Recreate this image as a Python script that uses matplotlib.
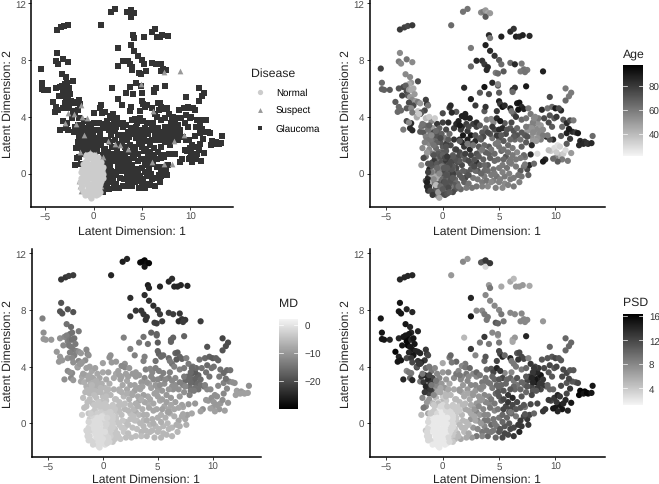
import matplotlib
matplotlib.use("Agg")
import matplotlib.pyplot as plt
from matplotlib.colors import LinearSegmentedColormap

plt.rcParams['font.family'] = ['Liberation Sans', 'DejaVu Sans']
plt.rcParams['text.hinting'] = 'none'

W, H = 659, 485

# latent positions and clinical values
glaucoma_x = [
    1.8, 2.2, 3.4, 3.6, 3.8, 4.0, 3.8, 4.2, 0.75, -3.8,
    -3.4, -3.1, -2.7, 4.1, 4.2, 5.2, 6.0, 6.3, 6.5, 6.8,
    7.1, 7.7, 3.8, 4.2, 2.5, 4.6, -3.8, -3.9, -3.2, -2.7,
    -3.7, 3.0, 3.5, 3.7, 4.0, 3.9, 2.5, 5.0, 5.2, 6.0,
    6.4, 7.0, 7.2, 6.9, 7.5, 5.4, 4.7, 4.9,
    -5.5, -3.3, -2.9, -5.4, -5.4, -5.2, -4.7, -2.2, -2.8, -3.0,
    -3.9, -3.5, -3.3, -3.2, -3.0, -2.8, -2.6, -2.5, -3.1, -2.9,
    -2.7, -2.4, -3.6, -3.0, -2.6, -2.2, -2.0, -4.2, -3.9, -4.0,
    -3.7, -3.2, -2.8, -2.2, -1.6, -1.5, -1.4, -2.3, -1.9, -2.0,
    -3.2, -2.8, -2.9, -3.5, -2.7, -2.0, -2.3, -1.5, -1.0, -0.9,
    -1.7, -1.5, -1.3, -1.1, -0.8, -1.4, -1.2, -1.0, -0.7, -0.4,
    -0.5, 0.0, 0.6, 0.7, 1.2, 2.0, 2.5, 1.9, 0.0, 0.8,
    1.7, 2.0, 2.9, 3.3, 3.7, 4.1, 4.4, 4.9, 5.0, 6.2,
    6.4, 6.2, 7.4, 5.0, 5.1, 5.3, 4.8, 5.5, 6.0, 6.3,
    6.6, 6.8, 7.0, 6.7, 7.2, 7.6, 6.5, 7.0, 6.1, 5.5,
    3.7, 3.9, 4.3, 4.5, 4.8, 5.3, 3.8, 4.6, 5.1, 6.0,
    7.5, 7.7, 7.9, 8.1, 8.3, 8.5, 8.7, 8.9, 9.2, 7.8,
    8.0, 8.4, 8.6, 8.2, 8.9, 7.3, 7.9, 8.5, 8.8, 9.5,
    9.3, 9.7, 10.0, 10.5, 10.9, 11.2, 10.9, 11.4, 9.7, 10.3,
    10.7, 11.0, 11.3, 10.6, 11.0, 11.5, 10.5, 11.3, 11.6, 11.2,
    11.8, 12.0, 12.2, 12.4, 12.6, 12.9, 13.3, 12.1, 12.5, 12.8,
    13.2, 9.6, 9.9, 10.2, 10.4, 10.7, 9.1, 9.4, 10.0, 10.6,
    10.4, 10.9, 11.0, 11.1, 10.2, 11.4, 9.8, 8.4, 8.9, 7.8,
    5.0, 5.4, 5.8, 6.2, 6.6, 7.0, 7.3, 5.2, 5.6, 6.0,
    6.4, 4.4, 4.7, 4.1, 3.7, 3.3, 2.9, 2.5, 3.0, 3.5,
    7.5, 7.7, 7.2, 6.9, 7.0, 7.6, 6.5, 6.0, 5.5, 5.0,
    4.5, 4.0, 3.5, 3.0, 2.6, 2.1, 1.6, 1.1, 0.9, 1.3,
    4.3, 4.8, 5.3, 5.8, 6.3, 6.8, 2.0, 2.5, 3.1, 3.7,
    2.0, 2.5, 3.0, 3.6, 4.0, 4.6, 5.0, 1.5, 1.9, 2.4,
    0.3, 0.7, 1.1, 1.5, 0.4, 0.9, 1.3, 0.2, 0.6, 1.0,
    1.8, 2.2, 1.7, 2.1, 0.0, -0.3, -0.6, -0.9, -1.2, -1.8,
    0.5, 0.9, 1.3, 1.7, 2.1, 2.5, 2.9, 3.3, 3.7, 4.1,
    4.5, 4.9, 5.3, 5.7, 6.1, 1.1, 1.5, 1.9, 2.3, 2.7,
    3.1, 3.5, 3.9, 4.3, 4.7, 5.1, 5.5, 5.9, 6.3, 6.7,
    0.6, 1.0, 1.4, 1.8, 2.2, 2.6, 3.0, 3.4, 3.8, 4.2,
    4.6, 5.0, 5.4, 5.8, 6.2, 4.2, 4.8, 5.6, 6.6, 7.4,
    -0.2, -0.5, -0.1, 0.3, -0.8, -1.5, -1.9, -1.7, -1.3, -0.3,
    1.2, 1.6, 2.3, 2.7, 3.0, 3.3, 1.4, 2.9, 3.6, 2.4,
    7.4, 8.2, 8.0, 9.0, 9.5, 9.9, 10.1, 7.0, 7.4, 9.8,
    8.7, 8.1, 9.4, 9.5, 8.4, 7.2, 6.3, 7.9, 8.0, 10.1,
    1.0, 1.4, 1.7, 0.9, 1.2, 0.8, 1.5, 1.1, 1.8, 2.3,
    -1.9, -1.6, -1.2, -0.9, -0.6, -0.4, 0.3, 0.5, 1.5, 3.8,
    4.0, 5.7, 6.3, 6.6, 5.0, 5.2, 4.4, 3.3, 7.5, 6.9,
    1.2, 1.7, 2.3, 2.8, 3.2, 3.7, 4.3, 4.9, 5.4, 6.0,
    3.2, 4.0, 4.6, 5.3, 5.9, 6.5, 3.4, 2.8, 6.9, 2.0,
    -0.1, 0.3, -0.5, -0.2, 0.5, 0.1, -0.8, -1.6, -1.1, -0.6,
]
glaucoma_y = [
    11.4, 11.6, 11.35, 11.4, 11.5, 11.3, 11.05, 11.3, 10.45, 10.15,
    10.3, 10.4, 10.45, 9.75, 9.55, 9.65, 10.0, 10.2, 9.65, 9.65,
    9.75, 9.7, 9.05, 8.65, 8.85, 8.3, 8.5, 7.9, 8.05, 7.85,
    7.75, 7.95, 7.95, 7.7, 7.5, 7.3, 7.55, 8.0, 7.7, 7.8,
    7.7, 7.75, 7.35, 7.2, 7.3, 7.2, 7.1, 7.05,
    7.4, 7.0, 6.8, 6.4, 5.95, 5.9, 5.9, 6.5, 6.4, 6.3,
    6.0, 6.1, 6.2, 5.8, 5.9, 5.9, 6.0, 5.6, 5.5, 5.4,
    5.2, 5.1, 5.5, 5.0, 4.8, 5.05, 4.95, 5.05, 4.7, 4.35,
    4.45, 4.6, 4.6, 4.4, 4.45, 5.2, 4.9, 3.95, 4.3, 4.2,
    3.7, 3.55, 3.2, 3.1, 3.05, 2.95, 4.0, 3.9, 3.7, 3.2,
    2.9, 2.6, 3.1, 2.8, 2.9, 2.35, 2.1, 2.5, 2.2, 2.6,
    3.5, 4.25, 4.65, 4.8, 4.35, 4.2, 5.25, 6.05, 3.6, 4.3,
    4.05, 3.95, 4.8, 5.7, 6.1, 5.6, 6.4, 6.2, 5.7, 5.9,
    6.05, 5.75, 6.15, 5.1, 4.9, 4.7, 4.4, 4.8, 4.6, 4.2,
    4.95, 5.0, 4.7, 4.5, 4.55, 4.6, 4.0, 3.8, 3.6, 3.55,
    4.4, 3.8, 3.85, 3.6, 3.9, 3.2, 3.2, 3.1, 3.7, 3.2,
    3.0, 3.3, 2.6, 3.5, 2.9, 3.2, 3.4, 3.1, 2.6, 4.2,
    2.3, 3.6, 2.8, 3.1, 2.7, 2.7, 2.0, 3.9, 4.5, 5.4,
    4.6, 4.7, 4.6, 4.45, 6.0, 5.45, 5.15, 5.7, 3.3, 4.6,
    3.8, 3.55, 3.75, 3.3, 2.85, 2.95, 2.65, 2.45, 3.75, 3.15,
    2.9, 2.85, 2.3, 2.15, 2.25, 2.1, 2.65, 2.0, 2.1, 2.15,
    2.15, 1.6, 1.8, 2.0, 1.3, 1.4, 1.0, 1.65, 1.1, 1.0,
    1.9, 1.65, 2.1, 0.9, 0.85, 1.45, 1.05, 1.4, 0.85, 1.35,
    2.5, 2.3, 2.0, 1.8, 1.5, 1.9, 1.15, 1.6, 1.2, 1.0,
    2.4, 2.5, 2.1, 1.9, 2.0, 1.6, 2.3, 2.7, 3.3, 2.9,
    0.3, 0.6, 0.5, 0.2, -0.2, -0.1, 0.5, -0.4, -0.7, -0.6,
    -0.5, -0.9, -0.6, -0.9, -1.0, -1.0, -1.1, -1.1, -1.3, -0.7,
    -0.1, -0.2, -1.0, -0.8, -0.9, -0.6, -0.3, 0.3, 0.2, 0.2,
    1.0, 1.3, 0.8, 1.0, 0.6, 0.9, 0.4, 1.5, 1.9, 1.7,
    1.6, 2.0, 1.7, 2.4, 1.1, 1.3, 0.8, 2.5, 2.8, 3.2,
    2.7, 3.0, 3.3, 3.5, 1.9, 1.5, 1.8, 1.4, 1.7, 1.8,
    0.2, 0.5, 0.1, 0.6, 0.1, 0.7, 0.2, 0.6, -0.2, 1.4,
    0.3, 1.0, 0.6, 0.4, 0.7, -0.4, -0.1, -0.6, -0.7, -0.3,
    -0.4, -0.9, -0.5, -0.6, -1.0, -0.4, -0.2, 0.0, -0.3, -0.1,
    1.0, 2.4, 1.2, 1.3, 2.4, 2.1, 1.4, 2.4, 1.5, 2.8,
    1.4, 1.9, 1.0, 1.5, 1.3, 1.1, 2.7, 2.8, 2.7, 2.2,
    2.2, 2.9, 2.8, 2.1, 2.4, 1.2, 0.6, 1.1, 0.7, 3.2,
    3.5, 3.1, 3.3, 3.5, 3.6, 3.4, 3.7, 2.7, 2.6, 3.9,
    3.3, 4.0, 3.6, 3.9, 4.1, 3.9, 4.0, 2.9, 3.9, 2.4,
    2.4, 3.9, 3.6, 2.4, 2.5, 1.3, 3.0, 3.2, 2.9, 1.5,
    -0.8, -0.9, -0.3, -0.1, 0.4, 0.8, 0.9, 1.0, 0.2, -0.1,
    3.3, 3.4, 3.4, 2.2, 2.7, 1.2, 3.1, 3.6, 3.4, 4.7,
    2.9, 3.1, 2.6, 3.2, 3.1, 2.7, 3.3, 2.5, 2.6, 2.4,
    1.7, 2.2, 0.9, 1.0, 1.9, 0.6, 1.7, 2.2, 1.7, 2.4,
    1.2, 0.2, 0.0, 0.1, 0.8, 1.0, 0.0, 0.5, 1.1, 1.4,
    1.5, 1.9, 2.2, 2.5, 2.4, 1.3, 2.0, 2.2, 2.4, 3.0,
]
glaucoma_age = [
    62, 62, 55, 60, 50, 45, 70, 50, 65, 80,
    78, 76, 80, 85, 60, 88, 85, 82, 88, 85,
    88, 85, 88, 85, 60, 82, 55, 60, 62, 55,
    55, 85, 82, 80, 85, 85, 65, 70, 65, 65,
    85, 60, 62, 60, 60, 70, 60, 65,
    78, 55, 55, 65, 68, 68, 70, 75, 50, 45,
    72, 75, 68, 75, 50, 45, 45, 50, 70, 50,
    55, 50, 78, 75, 75, 60, 50, 70, 65, 65,
    65, 70, 55, 35, 75, 78, 80, 38, 70, 70,
    75, 85, 85, 60, 85, 70, 45, 40, 55, 50,
    70, 58, 62, 60, 75, 60, 55, 65, 60, 70,
    80, 75, 80, 85, 70, 88, 88, 85, 78, 85,
    88, 88, 80, 70, 92, 75, 85, 70, 70, 80,
    82, 65, 90, 88, 80, 92, 80, 85, 88, 70,
    90, 92, 85, 92, 88, 60, 80, 65, 75, 70,
    70, 60, 55, 55, 85, 85, 65, 75, 90, 70,
    50, 55, 52, 58, 50, 55, 50, 55, 85, 60,
    50, 52, 55, 55, 60, 70, 85, 60, 85, 75,
    62, 65, 90, 85, 60, 60, 65, 60, 70, 75,
    70, 85, 75, 65, 88, 85, 72, 80, 60, 90,
    80, 90, 85, 88, 82, 88, 65, 85, 85, 82,
    85, 35, 30, 28, 40, 35, 85, 40, 55, 60,
    32, 30, 70, 60, 70, 50, 65, 30, 90, 85,
    72, 70, 65, 60, 55, 68, 60, 65, 70, 60,
    65, 62, 60, 70, 65, 55, 85, 90, 78, 70,
    75, 85, 62, 70, 62, 68, 60, 60, 55, 58,
    58, 55, 60, 62, 62, 60, 65, 70, 75, 65,
    60, 62, 55, 58, 60, 58, 75, 70, 72, 65,
    70, 78, 82, 68, 70, 65, 60, 75, 80, 85,
    70, 75, 72, 85, 78, 68, 72, 60, 65, 80,
    90, 80, 85, 78, 70, 72, 65, 68, 55, 55,
    72, 78, 68, 75, 70, 72, 65, 70, 60, 68,
    62, 65, 60, 62, 58, 65, 70, 68, 62, 60,
    60, 58, 62, 55, 58, 58, 60, 58, 60, 62,
    70, 82, 75, 70, 88, 80, 72, 70, 68, 72,
    65, 62, 65, 62, 60, 68, 80, 75, 72, 70,
    72, 70, 68, 78, 65, 60, 50, 75, 72, 68,
    85, 80, 75, 78, 85, 70, 88, 72, 75, 88,
    60, 55, 58, 75, 72, 70, 80, 70, 62, 85,
    58, 55, 75, 72, 52, 65, 72, 52, 55, 35,
    70, 62, 70, 72, 75, 78, 70, 72, 68, 72,
    62, 65, 68, 62, 72, 70, 75, 85, 90, 82,
    75, 72, 70, 65, 85, 70, 80, 70, 72, 62,
    78, 85, 75, 72, 70, 65, 62, 60, 62, 65,
    70, 64, 60, 58, 62, 60, 66, 74, 60, 78,
    70, 72, 68, 75, 70, 72, 62, 58, 60, 65,
]
glaucoma_md = [
    -26, -25, -28, -29, -29, -28, -27, -29, -25, -23,
    -23, -22, -22, -26, -25, -25, -25, -24, -25, -25,
    -25, -25, -24, -24, -24, -24, -19, -19, -19, -19,
    -19, -23, -23, -23, -23, -23, -23, -23, -22, -22,
    -22, -23, -23, -24, -23, -22, -22, -22,
    -13, -15, -16, -11, -10, -10, -10, -14, -15, -15,
    -11, -12, -13, -13, -14, -15, -15, -14, -14, -14,
    -14, -13, -12, -13, -13, -11, -10, -10, -10, -10,
    -10, -11, -12, -12, -11, -12, -12, -11, -10, -10,
    -12, -12, -12, -11, -10, -8, -9, -9, -8, -8,
    -7, -7, -8, -7, -7, -6, -6, -7, -6, -7,
    -8, -9, -11, -11, -10, -11, -13, -13, -8, -10,
    -12, -12, -13, -14, -15, -15, -17, -17, -18, -17,
    -17, -17, -17, -17, -17, -16, -15, -16, -16, -15,
    -17, -18, -17, -18, -17, -13, -13, -13, -13, -13,
    -13, -13, -12, -12, -13, -13, -12, -12, -13, -13,
    -16, -16, -15, -17, -17, -17, -17, -16, -14, -14,
    -14, -18, -16, -17, -15, -13, -13, -16, -15, -19,
    -16, -17, -18, -17, -21, -20, -19, -20, -15, -17,
    -15, -16, -16, -14, -13, -13, -12, -12, -15, -15,
    -11, -11, -9, -9, -10, -9, -11, -9, -9, -9,
    -9, -10, -11, -11, -10, -10, -11, -10, -10, -10,
    -11, -11, -12, -9, -9, -10, -9, -10, -9, -10,
    -10, -10, -10, -10, -9, -10, -8, -8, -8, -8,
    -11, -9, -9, -8, -9, -8, -9, -9, -10, -10,
    -8, -9, -8, -8, -7, -7, -7, -6, -6, -6,
    -6, -6, -6, -5, -5, -5, -4, -4, -4, -4,
    -6, -6, -6, -6, -6, -6, -4, -5, -5, -6,
    -6, -6, -7, -7, -7, -8, -7, -5, -6, -7,
    -5, -6, -5, -7, -4, -4, -4, -6, -7, -8,
    -8, -8, -9, -9, -5, -5, -5, -5, -5, -5,
    -4, -4, -4, -5, -5, -5, -5, -6, -6, -7,
    -7, -8, -7, -7, -7, -4, -4, -4, -5, -5,
    -5, -5, -6, -6, -6, -6, -6, -6, -6, -7,
    -4, -7, -5, -5, -8, -8, -7, -8, -8, -9,
    -8, -9, -9, -9, -8, -8, -10, -11, -11, -11,
    -6, -7, -7, -6, -6, -5, -3, -5, -4, -8,
    -8, -9, -9, -10, -10, -10, -9, -9, -9, -10,
    -14, -15, -16, -15, -16, -15, -15, -13, -14, -12,
    -15, -16, -15, -12, -15, -9, -12, -16, -16, -10,
    -4, -4, -4, -3, -4, -4, -5, -4, -4, -5,
    -8, -8, -8, -6, -7, -5, -8, -9, -9, -13,
    -10, -12, -11, -12, -12, -11, -12, -9, -12, -11,
    -5, -7, -6, -6, -8, -7, -8, -9, -9, -10,
    -7, -7, -7, -7, -8, -8, -6, -5, -8, -5,
    -5, -5, -6, -6, -6, -4, -5, -6, -6, -7,
]
glaucoma_psd = [
    8, 7, 11, 11, 13, 13, 3, 13, 7, 14,
    14, 14, 14, 7, 9, 6, 6, 5, 7, 7,
    7, 6, 8, 8, 14, 8, 15, 15, 14, 14,
    15, 8, 8, 9, 9, 9, 15, 8, 9, 8,
    8, 8, 8, 8, 8, 9, 11, 10,
    15, 15, 14, 15, 15, 15, 14, 14, 14, 15,
    14, 15, 15, 16, 16, 14, 15, 15, 16, 15,
    15, 14, 15, 14, 15, 14, 14, 16, 14, 15,
    15, 12, 13, 13, 13, 13, 13, 13, 14, 13,
    8, 9, 10, 14, 14, 9, 11, 10, 9, 12,
    13, 14, 14, 13, 13, 14, 12, 14, 8, 7,
    8, 6, 9, 10, 10, 9, 13, 5, 7, 9,
    8, 9, 8, 9, 13, 9, 8, 7, 9, 6,
    7, 6, 14, 12, 12, 14, 12, 10, 14, 9,
    11, 12, 12, 13, 12, 8, 9, 9, 8, 8,
    10, 10, 11, 12, 14, 12, 9, 10, 13, 10,
    12, 13, 12, 13, 15, 14, 15, 13, 10, 13,
    11, 14, 13, 15, 13, 10, 12, 13, 11, 10,
    11, 11, 12, 11, 10, 10, 10, 10, 11, 11,
    12, 12, 11, 12, 11, 11, 12, 13, 11, 12,
    11, 12, 16, 16, 16, 15, 15, 16, 15, 16,
    15, 12, 13, 14, 15, 14, 13, 13, 15, 15,
    13, 14, 12, 14, 14, 15, 15, 12, 13, 12,
    10, 11, 13, 14, 12, 11, 9, 11, 12, 12,
    10, 9, 10, 8, 8, 7, 7, 8, 8, 9,
    13, 12, 12, 13, 13, 13, 9, 12, 12, 11,
    9, 10, 9, 9, 7, 6, 6, 5, 4, 5,
    10, 9, 12, 12, 13, 14, 5, 7, 8, 9,
    6, 6, 8, 8, 8, 8, 9, 5, 6, 6,
    4, 5, 5, 7, 3, 4, 4, 7, 6, 8,
    7, 8, 8, 9, 4, 4, 5, 6, 7, 8,
    3, 4, 4, 5, 5, 6, 6, 7, 8, 8,
    9, 9, 10, 10, 10, 4, 5, 5, 6, 7,
    8, 8, 9, 9, 10, 11, 11, 11, 12, 13,
    3, 6, 4, 5, 7, 7, 7, 7, 8, 9,
    9, 11, 12, 13, 12, 9, 10, 10, 9, 10,
    6, 7, 7, 5, 7, 8, 5, 9, 6, 8,
    9, 8, 8, 8, 10, 9, 8, 8, 8, 10,
    11, 12, 13, 12, 12, 11, 12, 10, 10, 10,
    12, 13, 11, 10, 13, 11, 9, 14, 14, 13,
    4, 5, 5, 3, 4, 3, 4, 4, 5, 5,
    13, 14, 12, 12, 8, 4, 7, 8, 9, 11,
    9, 10, 10, 11, 11, 10, 10, 8, 11, 10,
    5, 6, 6, 7, 7, 8, 9, 11, 12, 11,
    8, 9, 9, 10, 11, 11, 7, 6, 11, 5,
    5, 5, 6, 6, 6, 4, 8, 13, 13, 9,
]

suspect_x = [
    -1.5, -1.4, -1.3, -0.9, -1.4, -1.0, -0.4, 0.2, 0.9, 1.5,
    2.2, 2.7, 3.5, -0.7, -1.8, -2.7, -2.1, -3.0, -1.2, -1.3,
    0.7, 0.4, 0.9, 4.9, 6.1, 6.0, 7.3, 8.1, 8.3, 9.3,
    8.9, 7.3,
]
suspect_y = [
    -0.5, -0.9, -1.2, 1.4, 1.5, 2.7, 1.5, 1.4, 1.2, 2.3,
    2.1, 2.0, 1.7, 3.9, 3.5, 4.3, 4.2, 3.6, 4.0, 4.8,
    -0.9, -1.2, 0.3, 6.3, 4.4, 0.8, 0.65, 0.7, 2.3, 2.7,
    7.2, 7.15,
]
suspect_age = [
    70, 85, 80, 60, 50, 55, 65, 70, 70, 70,
    60, 62, 60, 35, 62, 60, 35, 55, 35, 60,
    60, 60, 65, 55, 62, 60, 60, 65, 50, 60,
    88, 62,
]
suspect_md = [
    -2, -2, -2, -5, -5, -6, -4, -4, -4, -7,
    -7, -8, -7, -9, -9, -11, -10, -11, -9, -11,
    -3, -3, -3, -17, -14, -9, -8, -8, -14, -13,
    -22, -22,
]
suspect_psd = [
    4, 3, 3, 5, 7, 9, 3, 4, 4, 7,
    6, 7, 7, 8, 9, 12, 13, 9, 9, 12,
    4, 4, 3, 8, 9, 9, 11, 10, 11, 10,
    7, 8,
]

normal_x = [
    -1.2, -1.0, -0.8, -0.6, -0.4, -0.2, 0.0, 0.2, 0.4, 0.6,
    -1.3, -1.1, -0.9, -0.6, -0.3, -0.1, 0.1, 0.3, 0.5, 0.7,
    -1.2, -0.9, -0.7, -0.4, -0.2, 0.0, 0.2, 0.5, 0.7, 0.9,
    -0.9, -0.7, -0.5, -0.3, -0.1, 0.1, 0.3, 0.5, 0.7, 0.9,
    -0.6, -0.4, -0.2, 0.0, 0.2, 0.4, -0.5, -0.3, 0.1, 0.3,
    -1.4, -1.3, -1.1, -0.9, -0.7, -0.5, -0.3, -0.1, 0.1, 0.3,
    0.5, 0.7, 0.9, 0.8, 0.6, 0.4, 0.2, -1.0, -1.3, -1.1,
    -0.8, -0.6, -0.4, -0.2, 0.0, 0.2, 0.4, 0.6, -0.5, -0.8,
]
normal_y = [
    -0.9, -0.5, -1.3, -1.0, -1.6, -1.2, -1.4, -1.0, -1.1, -0.7,
    -0.3, 0.0, -0.1, -0.4, -0.7, -0.4, -0.6, -0.3, -0.5, -0.2,
    0.3, 0.5, 0.2, 0.1, 0.3, 0.0, 0.2, 0.1, 0.3, 0.0,
    0.8, 1.0, 0.7, 1.1, 0.8, 0.6, 0.9, 0.6, 0.8, 0.5,
    1.3, 1.4, 1.2, 1.3, 1.1, 1.2, -1.5, -1.7, -0.9, -0.8,
    -0.6, -1.0, -1.2, -1.5, -0.7, -0.2, 0.0, 0.5, 0.4, -0.1,
    -1.0, -0.5, -0.3, 0.3, 0.6, 0.4, -0.6, 0.1, 0.1, 0.7,
    -0.4, -0.8, -1.3, -0.9, -1.1, -1.5, -1.4, -1.3, 0.4, 1.3,
]
normal_age = [
    80, 45, 75, 70, 40, 65, 75, 80, 60, 70,
    85, 50, 45, 40, 70, 65, 75, 70, 65, 72,
    85, 70, 50, 65, 60, 72, 75, 70, 75, 78,
    75, 80, 70, 65, 72, 68, 80, 72, 75, 70,
    60, 70, 72, 68, 75, 80, 60, 45, 70, 72,
    88, 85, 75, 80, 60, 45, 55, 60, 70, 72,
    75, 72, 70, 72, 75, 70, 72, 60, 78, 72,
    55, 40, 50, 65, 70, 75, 72, 70, 65, 72,
]
normal_md = [
    -2, -2, -2, -1, -1, -1, -1, -2, -2, -3,
    -2, -1, -1, -1, -1, -1, -1, -2, -2, -3,
    -3, -2, -1, -1, -1, -1, -2, -2, -3, -3,
    -4, -4, -3, -3, -3, -2, -3, -3, -3, -3,
    -4, -4, -4, -4, -4, -4, -1, -1, -1, -2,
    -2, -2, -2, -2, -1, -1, -1, -1, -1, -2,
    -2, -3, -3, -3, -3, -2, -1, -1, -2, -3,
    -1, -1, -1, -1, -1, -1, -2, -2, -1, -4,
]
normal_psd = [
    3, 2, 2, 2, 2, 2, 2, 2, 2, 3,
    3, 2, 2, 2, 2, 2, 2, 2, 2, 3,
    3, 2, 2, 2, 2, 2, 2, 2, 3, 3,
    4, 4, 3, 2, 2, 2, 3, 3, 3, 3,
    4, 5, 3, 3, 3, 4, 2, 2, 2, 2,
    3, 3, 3, 2, 2, 2, 2, 2, 2, 2,
    3, 3, 3, 3, 3, 2, 2, 2, 3, 4,
    2, 2, 2, 2, 2, 2, 2, 3, 2, 4,
]

x_ticks = [-5, 0, 5, 10]
y_ticks = [0, 4, 8, 12]
age_ticks = [40, 60, 80]
md_ticks = [-20, -10, 0]
psd_ticks = [4, 8, 12, 16]

all_x = glaucoma_x + suspect_x + normal_x
all_y = glaucoma_y + suspect_y + normal_y
all_age = glaucoma_age + suspect_age + normal_age
all_md = glaucoma_md + suspect_md + normal_md
all_psd = glaucoma_psd + suspect_psd + normal_psd

grey_up = LinearSegmentedColormap.from_list("grey_up", ["#f4f4f4", "#000000"])
grey_down = grey_up.reversed()

fig = plt.figure(figsize=(W / 100, H / 100), dpi=100)


def place(left, top, right, bottom):
    return fig.add_axes([left / W, 1 - bottom / H, (right - left) / W, (bottom - top) / H])


def style_panel(ax, xpad=3):
    ax.set_xlim(-6.5, 14.4)
    ax.set_ylim(-2.35, 12.3)
    ax.set_xticks(x_ticks, [str(t).replace("-", "\u2212") for t in x_ticks])
    ax.set_yticks(y_ticks)
    ax.spines["top"].set_visible(False)
    ax.spines["right"].set_visible(False)
    ax.spines["left"].set_linewidth(1.1)
    ax.spines["bottom"].set_linewidth(1.1)
    ax.tick_params(labelsize=7, labelcolor="#4d4d4d", color="#333333", length=2.2, width=0.7, pad=1.5)
    ax.set_xlabel("Latent Dimension: 1", fontsize=8.7, color="#222222", labelpad=xpad)
    ax.set_ylabel("Latent Dimension: 2", fontsize=8.7, color="#222222", labelpad=1.5)


def color_panel(box, values, cmap, vmin, vmax, cbox, ticks, title, title_y, xpad=3):
    ax = place(*box)
    sc = ax.scatter(all_x, all_y, c=values, cmap=cmap, vmin=vmin, vmax=vmax, s=20, linewidths=0, zorder=3)
    style_panel(ax, xpad)
    cax = place(*cbox)
    cb = fig.colorbar(sc, cax=cax)
    cb.outline.set_visible(False)
    cb.set_ticks(ticks, labels=[str(t).replace("-", "\u2212") for t in ticks])
    cax.tick_params(length=0, labelsize=7, labelcolor="#333333", pad=4.5)
    for t in ticks:
        cax.plot([0, 0.2], [t, t], color="white", lw=0.5)
        cax.plot([0.8, 1], [t, t], color="white", lw=0.5)
    fig.text(cbox[0] / W, 1 - title_y / H, title, fontsize=8.8, color="#222222", va="center", ha="left")


ax1 = place(31, 0, 233, 208)
ax1.scatter(glaucoma_x, glaucoma_y, marker="s", s=14, color="#333333", linewidths=0, zorder=3, label="Glaucoma")
ax1.scatter(suspect_x, suspect_y, marker="^", s=17, color="#999999", linewidths=0, zorder=4, label="Suspect")
ax1.scatter(normal_x, normal_y, marker="o", s=20, color="#cccccc", linewidths=0, zorder=5, label="Normal")
style_panel(ax1)
handles, labels = ax1.get_legend_handles_labels()
leg = fig.legend(handles[::-1], labels[::-1], title="Disease", frameon=False, loc="upper left",
                 bbox_to_anchor=(250.7 / W, 1 - 68.5 / H), fontsize=7, title_fontsize=8.8,
                 borderpad=0, borderaxespad=0, labelspacing=0.9, handletextpad=0.58,
                 alignment="left", markerscale=0.85)
leg.get_title().set_color("#222222")

color_panel((369.5, 0, 605, 208), all_age, grey_up, 22, 98, (623.3, 65.7, 642.7, 156.7), age_ticks, "Age", 54)
color_panel((31.5, 250, 261, 457.7), all_md, grey_down, -30, 2.1, (278.7, 320, 298, 410), md_ticks, "MD", 304, xpad=1.5)
color_panel((369.5, 250, 605, 457.7), all_psd, grey_up, 1.3, 16.4, (623.3, 315, 642.7, 405.7), psd_ticks, "PSD", 303, xpad=1.5)

fig.savefig("out.png", dpi=100)
